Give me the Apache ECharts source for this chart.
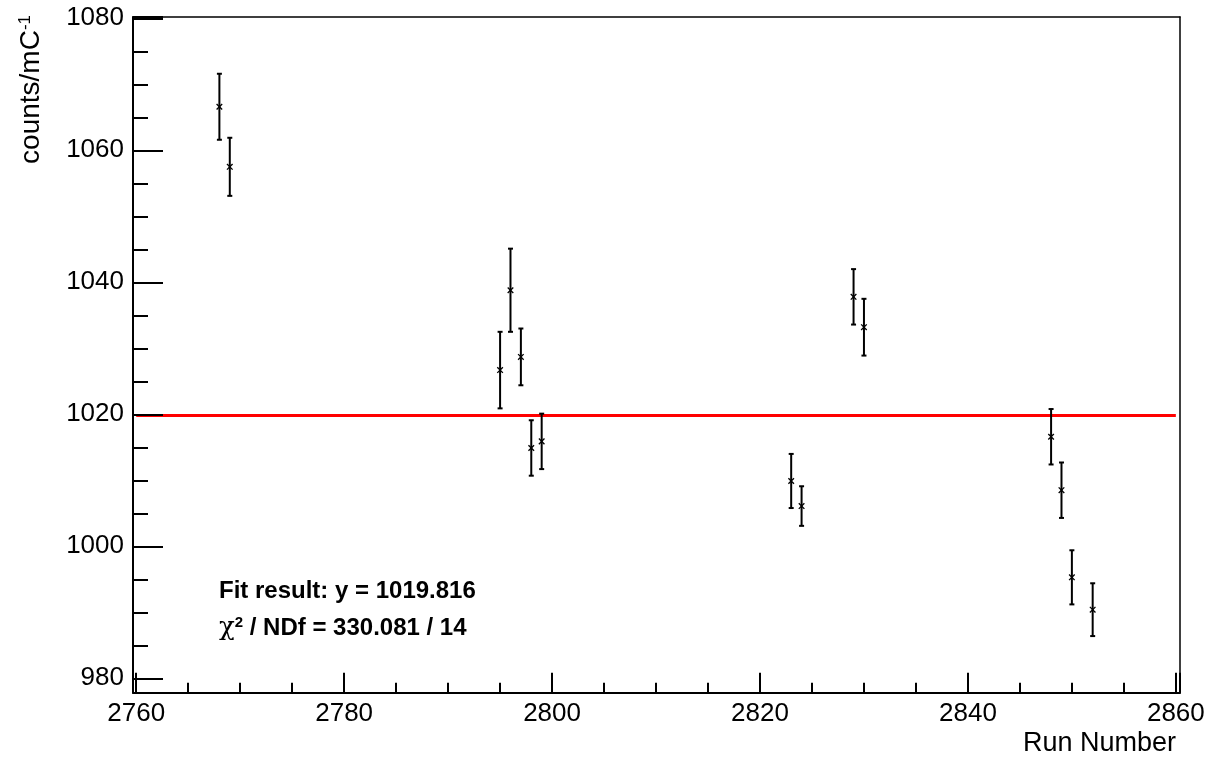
<!DOCTYPE html>
<html>
<head>
<meta charset="utf-8">
<script src="https://cdn.jsdelivr.net/npm/echarts@6/dist/echarts.min.js"></script>
<style>
  html, body { margin: 0; padding: 0; background: #fff; }
  #chart { width: 1211px; height: 758px; }
</style>
</head>
<body>
<div id="chart"></div>
<script>
// ---- data ----
const runs   = [2768, 2769, 2795, 2796, 2797, 2798, 2799, 2823, 2824, 2829, 2830, 2848, 2849, 2850, 2852];
const values = [1066.6, 1057.5, 1026.7, 1038.8, 1028.7, 1014.9, 1015.9, 1009.9, 1006.1, 1037.8, 1033.2, 1016.6, 1008.5, 995.3, 990.4];
const errors = [5.0, 4.4, 5.8, 6.3, 4.3, 4.2, 4.2, 4.1, 3.0, 4.2, 4.3, 4.2, 4.2, 4.1, 4.0];
const fitValue = 1019.816;
const fitRange = [2760, 2860];
const chi2 = '330.081';
const ndf = '14';
const xTitle = 'Run Number';
const yTitle = 'counts/mC';
const yTitleSup = '-1';

const FONT = '"Liberation Sans", Arial, Helvetica, sans-serif';

const chart = echarts.init(document.getElementById('chart'), null, { renderer: 'canvas' });

const pointData = runs.map((r, i) => [r, values[i], errors[i]]);

const tickFmt = v => String(Math.round(v));

const option = {
  backgroundColor: '#ffffff',
  animation: false,
  grid: { left: 133, right: 31, top: 17, bottom: 65.3, containLabel: false },
  xAxis: [
    {
      type: 'value', position: 'bottom',
      min: 2759.69, max: 2860.40,
      splitNumber: 5, minInterval: 20, maxInterval: 20,
      z: 5,
      axisLine: { show: true, onZero: false, lineStyle: { color: '#000', width: 2 } },
      axisTick: { show: true, inside: true, length: 20, lineStyle: { color: '#000', width: 2 } },
      minorTick: { show: true, splitNumber: 4, length: 10, lineStyle: { color: '#000', width: 2 } },
      axisLabel: { show: true, color: '#000', fontSize: 26, fontFamily: FONT, margin: 8,
                   showMinLabel: false, showMaxLabel: false, formatter: tickFmt },
      splitLine: { show: false },
      name: xTitle, nameLocation: 'end', nameGap: -4,
      nameTextStyle: { color: '#000', fontSize: 27, fontFamily: FONT, align: 'right', verticalAlign: 'top', padding: [37, 0, 0, 0] }
    },
    {
      type: 'value', position: 'top',
      min: 2759.69, max: 2860.40,
      axisLine: { show: true, onZero: false, lineStyle: { color: '#000', width: 1.5 } },
      axisTick: { show: false }, axisLabel: { show: false }, splitLine: { show: false }
    }
  ],
  yAxis: [
    {
      type: 'value', position: 'left',
      min: 977.82, max: 1080.2,
      splitNumber: 5, minInterval: 20, maxInterval: 20,
      z: 5,
      axisLine: { show: true, onZero: false, lineStyle: { color: '#000', width: 2 } },
      axisTick: { show: true, inside: true, length: 30, lineStyle: { color: '#000', width: 2 } },
      minorTick: { show: true, splitNumber: 4, length: 15, lineStyle: { color: '#000', width: 2 } },
      axisLabel: { show: true, color: '#000', fontSize: 26, fontFamily: FONT, margin: 9,
                   showMinLabel: false, showMaxLabel: false, formatter: tickFmt },
      splitLine: { show: false }
    },
    {
      type: 'value', position: 'right',
      min: 977.82, max: 1080.2,
      axisLine: { show: true, onZero: false, lineStyle: { color: '#000', width: 1.5 } },
      axisTick: { show: false }, axisLabel: { show: false }, splitLine: { show: false }
    }
  ],
  series: [
    {
      name: 'fit', type: 'line', xAxisIndex: 0, yAxisIndex: 0,
      data: fitRange.map(x => [x, fitValue]),
      symbol: 'none', z: 2,
      lineStyle: { color: '#ff0000', width: 3 },
      silent: true
    },
    {
      name: 'runs', type: 'custom', xAxisIndex: 0, yAxisIndex: 0,
      data: pointData, z: 3,
      encode: { x: 0, y: 1 },
      renderItem: function (params, api) {
        const x = api.value(0), y = api.value(1), e = api.value(2);
        const p = api.coord([x, y]);
        const hi = api.coord([x, y + e]);
        const lo = api.coord([x, y - e]);
        const cw = 2.5, m = 2.8;
        const s = { stroke: '#000', lineWidth: 2, fill: null };
        const sm = { stroke: '#000', lineWidth: 1.3, fill: null };
        return {
          type: 'group',
          children: [
            { type: 'line', shape: { x1: p[0], y1: hi[1], x2: p[0], y2: lo[1] }, style: s },
            { type: 'line', shape: { x1: p[0] - cw, y1: hi[1], x2: p[0] + cw, y2: hi[1] }, style: s },
            { type: 'line', shape: { x1: p[0] - cw, y1: lo[1], x2: p[0] + cw, y2: lo[1] }, style: s },
            { type: 'line', shape: { x1: p[0] - m, y1: p[1] - m, x2: p[0] + m, y2: p[1] + m }, style: sm },
            { type: 'line', shape: { x1: p[0] - m, y1: p[1] + m, x2: p[0] + m, y2: p[1] - m }, style: sm }
          ]
        };
      }
    }
  ],
  graphic: [
    {
      type: 'text', x: 31, y: 15, rotation: Math.PI / 2, z: 10,
      style: {
        text: '{b|' + yTitle + '}{s|' + yTitleSup + '}',
        align: 'right', verticalAlign: 'middle',
        textAlign: 'right', textVerticalAlign: 'middle',
        fill: '#000',
        rich: {
          b: { fontSize: 28, fontFamily: FONT, color: '#000' },
          s: { fontSize: 17, fontFamily: FONT, color: '#000', verticalAlign: 'top' }
        }
      }
    },
    {
      type: 'text', x: 219, y: 591, z: 10,
      style: {
        text: '{b|Fit result: y = ' + fitValue.toFixed(3) + '}',
        align: 'left', verticalAlign: 'middle',
        textAlign: 'left', textVerticalAlign: 'middle',
        fill: '#000',
        rich: { b: { fontSize: 24, fontWeight: 'bold', fontFamily: FONT, color: '#000' } }
      }
    },
    {
      type: 'text', x: 219, y: 628, z: 10,
      style: {
        text: '{g|χ}{s|2}{b| / NDf = ' + chi2 + ' / ' + ndf + '}',
        align: 'left', verticalAlign: 'middle',
        textAlign: 'left', textVerticalAlign: 'middle',
        fill: '#000',
        rich: {
          g: { fontSize: 26, fontFamily: '"DejaVu Serif", "Liberation Serif", serif', color: '#000' },
          s: { fontSize: 15, fontWeight: 'bold', fontFamily: FONT, color: '#000', verticalAlign: 'top' },
          b: { fontSize: 24, fontWeight: 'bold', fontFamily: FONT, color: '#000' }
        }
      }
    }
  ]
};

chart.setOption(option);
</script>
</body>
</html>
